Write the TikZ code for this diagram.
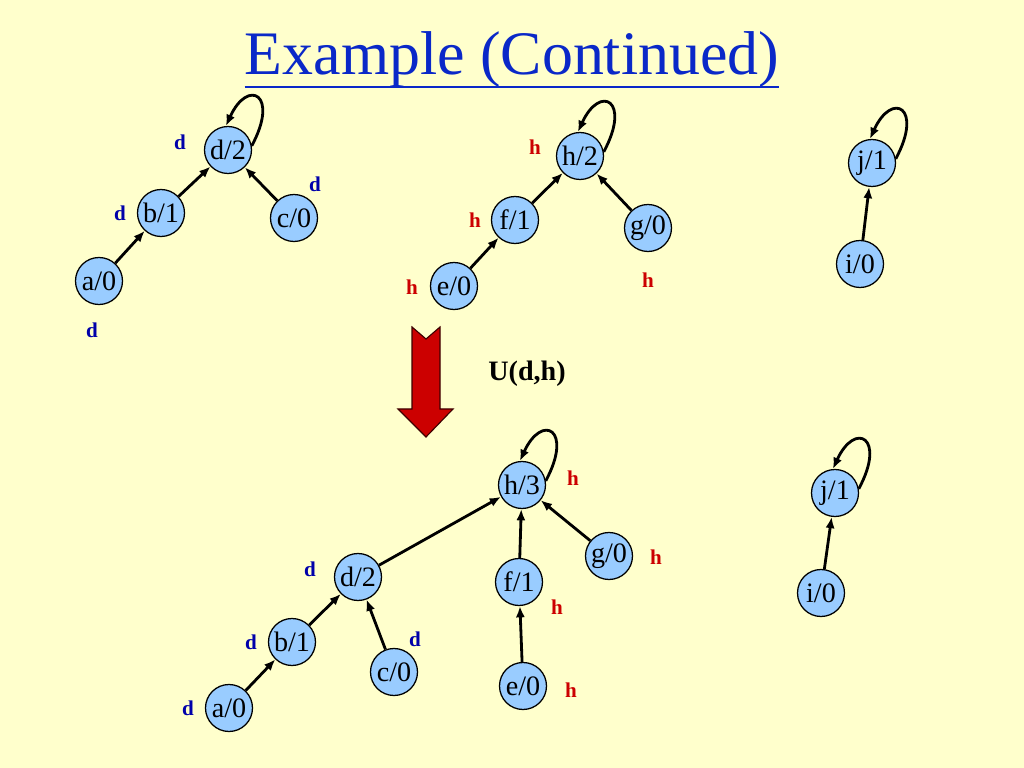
\documentclass[tikz,border=0pt]{standalone}
\usepackage{fontspec}
\setmainfont{Liberation Serif}
\usetikzlibrary{arrows.meta}
\definecolor{bgyellow}{RGB}{255,255,204}
\definecolor{nodeblue}{RGB}{153,204,255}
\definecolor{labblue}{RGB}{0,0,170}
\definecolor{labred}{RGB}{204,0,0}
\definecolor{titleblue}{RGB}{10,40,200}
\definecolor{arrred}{RGB}{204,0,0}
\tikzset{
  vtx/.style={circle, draw=black, line width=0.9pt, fill=nodeblue, minimum size=47*0.025cm, inner sep=0pt, font=\fontsize{20}{20}\selectfont},
  edge/.style={line width=2pt, -{Latex[length=8pt,width=6.5pt]}},
  dlab/.style={text=labblue, font=\fontsize{15}{15}\selectfont\bfseries, inner sep=0pt},
  hlab/.style={text=labred, font=\fontsize{15}{15}\selectfont\bfseries, inner sep=0pt},
}
\newcommand{\selfloop}[1]{\draw[edge] (#1.10) .. controls +(28,52) and +(22,48) .. (#1.95);}
\begin{document}
\begin{tikzpicture}[x=0.025cm, y=0.025cm]
\fill[bgyellow] (0,0) rectangle (1024,768);
\useasboundingbox (0,0) rectangle (1024,768);

% title
\node[inner sep=0pt, anchor=base, text=titleblue, font=\fontsize{44}{44}\selectfont] (title) at (512,693) {Example (Continued)};
\draw[titleblue, line width=1.6pt] ([yshift=-8.5pt]title.base west) -- ([yshift=-8.5pt]title.base east);

% ---------- top left tree ----------
\node[vtx] (d2t) at (228,618) {d/2};
\node[vtx] (b1t) at (161,555) {b/1};
\node[vtx] (c0t) at (294,550) {c/0};
\node[vtx] (a0t) at (99,487) {a/0};
\draw[edge] (a0t) -- (b1t);
\draw[edge] (b1t) -- (d2t);
\draw[edge] (c0t) -- (d2t);
\selfloop{d2t}
\node[dlab] (ld1) at (180,626) {d};
\node[dlab] (ld2) at (120,555) {d};
\node[dlab] (ld3) at (315,584) {d};
\node[dlab] (ld4) at (92,438) {d};

% ---------- top middle tree ----------
\node[vtx] (h2t) at (580,612) {h/2};
\node[vtx] (f1t) at (515,548) {f/1};
\node[vtx] (g0t) at (648,540) {g/0};
\node[vtx] (e0t) at (454,482) {e/0};
\draw[edge] (e0t) -- (f1t);
\draw[edge] (f1t) -- (h2t);
\draw[edge] (g0t) -- (h2t);
\selfloop{h2t}
\node[hlab] (lh1) at (535,621) {h};
\node[hlab] (lh2) at (475,548) {h};
\node[hlab] (lh3) at (412,481) {h};
\node[hlab] (lh4) at (648,488) {h};

% ---------- top right ----------
\node[vtx] (j1t) at (872,605) {j/1};
\node[vtx] (i0t) at (860,504) {i/0};
\draw[edge] (i0t) -- (j1t);
\selfloop{j1t}

% ---------- big red arrow ----------
\filldraw[fill=arrred, draw=black!70!arrred, line width=0.8pt]
  (412,441) -- (426,429) -- (440,441) -- (440,359) -- (453,359) -- (426,331) -- (398,359) -- (412,359) -- cycle;
\node[inner sep=0pt, font=\fontsize{20}{20}\selectfont\bfseries] (op) at (527,394) {U(d,h)};

% ---------- bottom tree ----------
\node[vtx] (h3) at (522,283) {h/3};
\node[vtx] (d2b) at (358,191) {d/2};
\node[vtx] (f1b) at (519,186) {f/1};
\node[vtx] (g0b) at (609,212) {g/0};
\node[vtx] (b1b) at (292,126) {b/1};
\node[vtx] (c0b) at (394,96) {c/0};
\node[vtx] (a0b) at (229,60) {a/0};
\node[vtx] (e0b) at (523,82) {e/0};
\draw[edge] (a0b) -- (b1b);
\draw[edge] (b1b) -- (d2b);
\draw[edge] (c0b) -- (d2b);
\draw[edge] (d2b) -- (h3);
\draw[edge] (f1b) -- (h3);
\draw[edge] (g0b) -- (h3);
\draw[edge] (e0b) -- (f1b);
\selfloop{h3}
\node[dlab] (bd1) at (310,199) {d};
\node[dlab] (bd2) at (251,126) {d};
\node[dlab] (bd3) at (415,129) {d};
\node[dlab] (bd4) at (188,60) {d};
\node[hlab] (bh1) at (573,290) {h};
\node[hlab] (bh2) at (656,211) {h};
\node[hlab] (bh3) at (557,161) {h};
\node[hlab] (bh4) at (571,78) {h};

% ---------- bottom right ----------
\node[vtx] (j1b) at (835,275) {j/1};
\node[vtx] (i0b) at (821,175) {i/0};
\draw[edge] (i0b) -- (j1b);
\selfloop{j1b}
\end{tikzpicture}
\end{document}
